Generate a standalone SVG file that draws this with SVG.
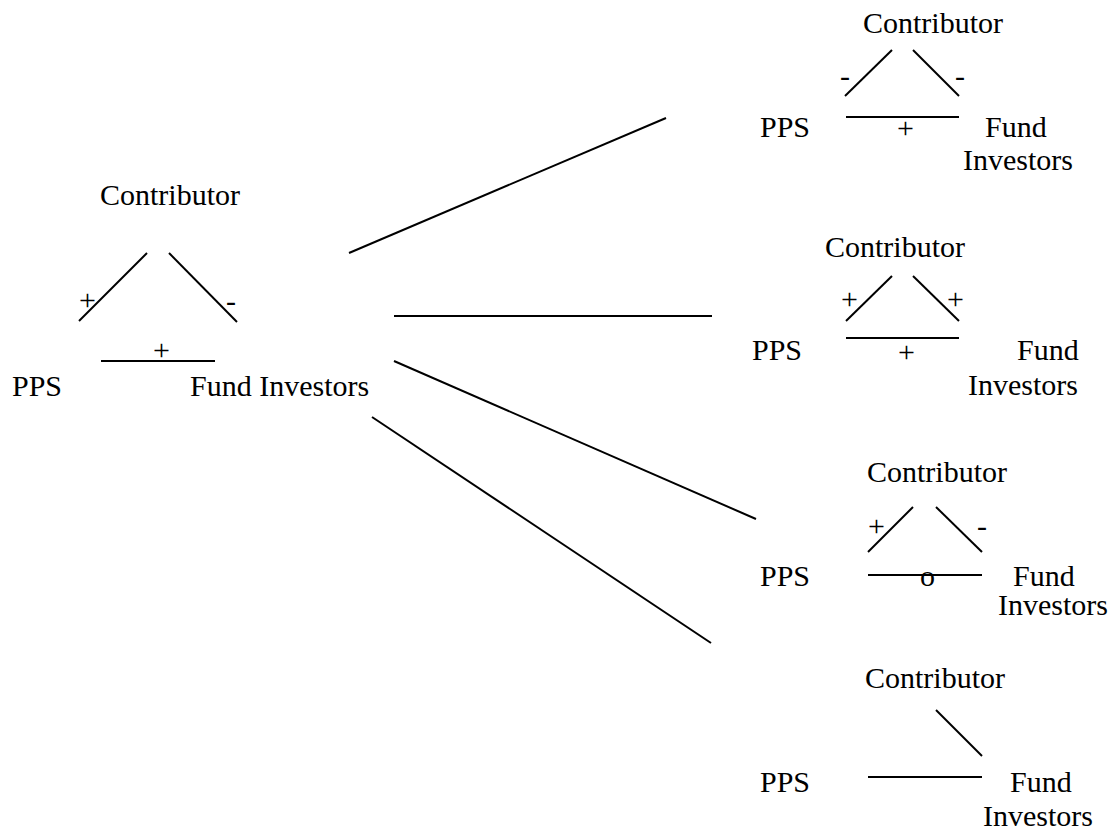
<svg xmlns="http://www.w3.org/2000/svg" width="1117" height="831" viewBox="0 0 1117 831">
  <style>
    text { font-family: "Liberation Serif", "Times New Roman", serif; font-size: 30px; fill: #000; }
    line { stroke: #000; stroke-width: 2; stroke-linecap: butt; }
  </style>
  <rect width="1117" height="831" fill="#fff"/>

  <!-- Main triad -->
  <g id="triad-main">
    <text x="100" y="205">Contributor</text>
    <text x="12" y="396">PPS</text>
    <text x="190" y="396">Fund Investors</text>
    <line x1="79" y1="321" x2="147" y2="253"/>
    <line x1="169" y1="253" x2="237" y2="322"/>
    <line x1="101" y1="361" x2="215" y2="361"/>
    <text x="79" y="310">+</text>
    <text x="226" y="311">-</text>
    <text x="153" y="360">+</text>
  </g>

  <!-- Outcome 1: - - + -->
  <g id="triad-1">
    <text x="863" y="33">Contributor</text>
    <text x="760" y="137">PPS</text>
    <text x="985" y="137">Fund</text>
    <text x="963" y="170">Investors</text>
    <line x1="845" y1="96" x2="892" y2="50"/>
    <line x1="913" y1="50" x2="959" y2="96"/>
    <line x1="846" y1="117" x2="959" y2="117"/>
    <text x="840" y="86">-</text>
    <text x="955" y="86">-</text>
    <text x="897" y="138">+</text>
  </g>

  <!-- Outcome 2: + + + -->
  <g id="triad-2">
    <text x="825" y="257">Contributor</text>
    <text x="752" y="360">PPS</text>
    <text x="1017" y="360">Fund</text>
    <text x="968" y="395">Investors</text>
    <line x1="846" y1="321" x2="892" y2="276"/>
    <line x1="913" y1="276" x2="959" y2="321"/>
    <line x1="846" y1="338" x2="959" y2="338"/>
    <text x="841" y="309">+</text>
    <text x="947" y="309">+</text>
    <text x="898" y="362">+</text>
  </g>

  <!-- Outcome 3: + - o -->
  <g id="triad-3">
    <text x="867" y="482">Contributor</text>
    <text x="760" y="586">PPS</text>
    <text x="1013" y="586">Fund</text>
    <text x="998" y="615">Investors</text>
    <line x1="868" y1="552" x2="913" y2="507"/>
    <line x1="936" y1="507" x2="982" y2="552"/>
    <line x1="868" y1="575" x2="982" y2="575"/>
    <text x="868" y="536">+</text>
    <text x="977" y="536">-</text>
    <text x="920" y="586">o</text>
  </g>

  <!-- Outcome 4: partial links -->
  <g id="triad-4">
    <text x="865" y="688">Contributor</text>
    <text x="760" y="792">PPS</text>
    <text x="1010" y="792">Fund</text>
    <text x="983" y="826">Investors</text>
    <line x1="936" y1="710" x2="982" y2="756"/>
    <line x1="868" y1="777" x2="982" y2="777"/>
  </g>

  <!-- Branches from the main triad to each outcome -->
  <g id="connectors">
    <line x1="349" y1="253" x2="666" y2="118"/>
    <line x1="394" y1="316" x2="712" y2="316"/>
    <line x1="394" y1="361" x2="756" y2="519"/>
    <line x1="372" y1="417" x2="711" y2="643"/>
  </g>
</svg>
